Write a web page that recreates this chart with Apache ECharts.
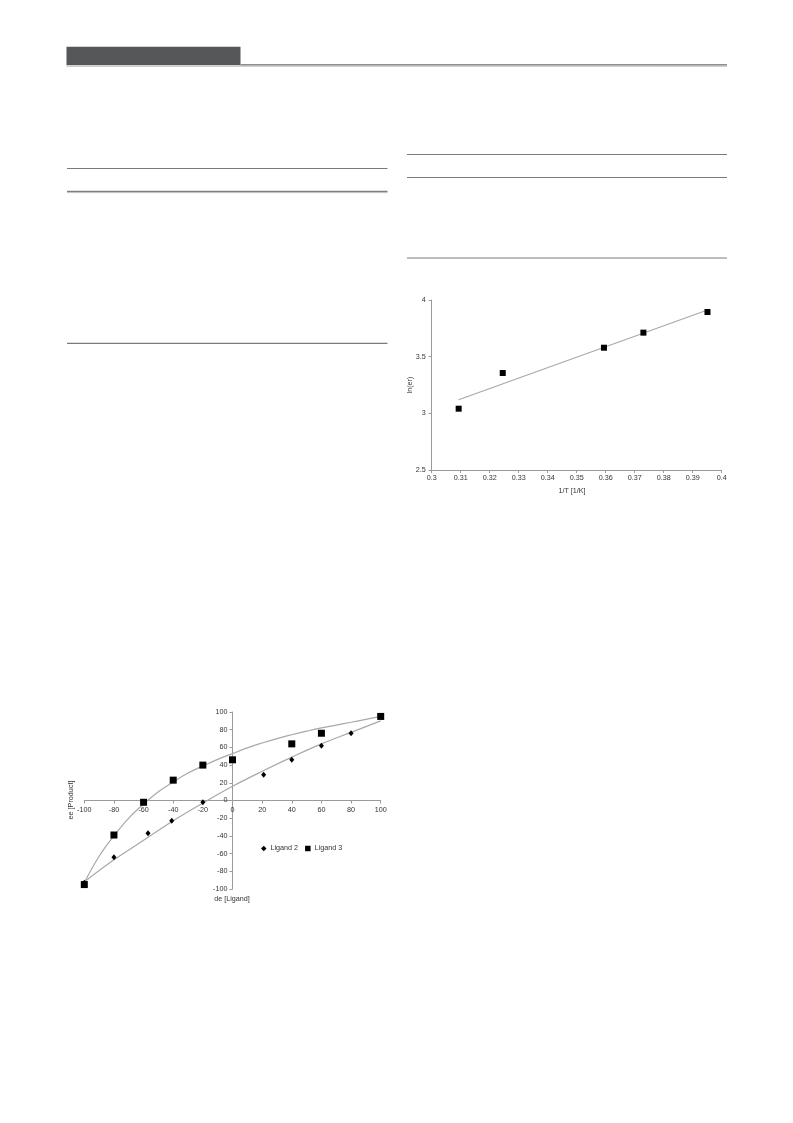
<!DOCTYPE html>
<html>
<head>
<meta charset="utf-8">
<script src="https://cdn.jsdelivr.net/npm/echarts@6/dist/echarts.min.js"></script>
<style>
html,body{margin:0;padding:0;background:#fff;}
#page{width:793px;height:1123px;}
</style>
</head>
<body>
<div id="page"></div>
<script>
// ---- Chart 1: ee [Product] vs de [Ligand] ----
const ligand2 = [[-100,-93],[-80,-64],[-57,-37],[-41,-23],[-20,-2],[21,29],[40,46],[60,62],[80,76]];
const ligand3 = [[-100,-95],[-80,-39],[-60,-2],[-40,23],[-20,40],[0,46],[40,64],[60,76],[100,95]];
const ligand2Fit = [[-100,-92],[-80,-67],[-60,-45],[-40,-23],[-20,-3],[0,16],[20,33],[40,49],[60,64],[80,77],[100,90]];
const ligand3Fit = [[-100,-93],[-90,-63],[-80,-40],[-70,-20],[-60,-4],[-50,10],[-40,21],[-30,31],[-20,39],[-10,46.5],[0,53],[10,59.5],[20,65],[30,70],[40,74.3],[50,78.3],[60,82],[70,85.2],[80,88.4],[90,91.7],[100,95]];
const deAxis = {min:-100, max:100, interval:20};
const eeAxis = {min:-100, max:100, interval:20};
const seriesNames1 = ['Ligand 2','Ligand 3'];

// ---- Chart 2: ln(er) vs 1/T ----
const invT = [0.3093,0.3245,0.3594,0.3730,0.3951];
const lnEr = [3.041,3.356,3.579,3.712,3.894];
const lnErFit = [[0.3093,3.12],[0.3951,3.912]];
const invTAxis = {min:0.3, max:0.4, interval:0.01};
const lnErAxis = {min:2.5, max:4, interval:0.5};

const FONT = '"Liberation Sans", Arial, sans-serif';
const LBL = '#333';
const AX = '#9a9a9a';
const FIT = '#a8a8a8';

const G1 = {left:84.3, top:712, width:296.4, height:177};
const G2 = {left:431.7, top:300, width:290, height:170};

const chart = echarts.init(document.getElementById('page'), null, {renderer:'canvas', width:793, height:1123});

function axisCommon(){
  return {
    axisLine:{show:true, onZero:false, lineStyle:{color:AX, width:1}},
    axisTick:{show:true, length:3, lineStyle:{color:AX}},
    splitLine:{show:false},
    axisLabel:{color:LBL, fontSize:7.2, fontFamily:FONT}
  };
}

// chart 1 axes cross at zero: shift each axis from the grid edge to the other axis's zero
const zeroFracY = (0 - eeAxis.min) / (eeAxis.max - eeAxis.min);
const zeroFracX = (0 - deAxis.min) / (deAxis.max - deAxis.min);
const x1 = Object.assign(axisCommon(), {type:'value', gridIndex:0, position:'bottom',
  offset: -G1.height * zeroFracY, min:deAxis.min, max:deAxis.max, interval:deAxis.interval});
x1.axisLabel.margin = 6;
const y1 = Object.assign(axisCommon(), {type:'value', gridIndex:0, position:'left',
  offset: -G1.width * zeroFracX, min:eeAxis.min, max:eeAxis.max, interval:eeAxis.interval});
y1.axisLabel.margin = 5;

const x2 = Object.assign(axisCommon(), {type:'value', gridIndex:1, min:invTAxis.min, max:invTAxis.max, interval:invTAxis.interval});
x2.axisLabel.margin = 5;
x2.axisLabel.formatter = v => String(+v.toFixed(2));
const y2 = Object.assign(axisCommon(), {type:'value', gridIndex:1, min:lnErAxis.min, max:lnErAxis.max, interval:lnErAxis.interval});
y2.axisLabel.margin = 6;
y2.axisLabel.formatter = v => String(+v.toFixed(1));

const txt = (text, x, y, rot) => ({
  type:'text', x:x, y:y, rotation: rot || 0, silent:true,
  style:{text:text, fill:LBL, font:'7.2px ' + FONT, textAlign:'center', textVerticalAlign:'middle'}
});
const rule = (x1p, x2p, y, w, c) => ({
  type:'line', silent:true, shape:{x1:x1p, y1:y, x2:x2p, y2:y}, style:{stroke:c, lineWidth:w}
});

chart.setOption({
  animation:false,
  backgroundColor:'#fff',
  grid:[
    Object.assign({outerBoundsMode:'none', containLabel:false}, G1),
    Object.assign({outerBoundsMode:'none', containLabel:false}, G2)
  ],
  xAxis:[x1, x2],
  yAxis:[y1, y2],
  legend:{
    data:[{name:seriesNames1[0], icon:'diamond'},{name:seriesNames1[1], icon:'rect'}],
    left:261, top:845, itemWidth:5.5, itemHeight:5.5, itemGap:7,
    padding:0,
    textStyle:{color:LBL, fontSize:7.2, fontFamily:FONT, padding:[0,0,0,-1]},
    itemStyle:{opacity:1},
    selectedMode:false
  },
  series:[
    {name:'fit2', type:'line', xAxisIndex:0, yAxisIndex:0, data:ligand2Fit, smooth:0.4, showSymbol:false, symbol:'none',
     lineStyle:{color:FIT, width:1.2}, z:1, silent:true},
    {name:'fit3', type:'line', xAxisIndex:0, yAxisIndex:0, data:ligand3Fit, smooth:0.4, showSymbol:false, symbol:'none',
     lineStyle:{color:FIT, width:1.2}, z:1, silent:true},
    {name:seriesNames1[0], type:'scatter', xAxisIndex:0, yAxisIndex:0, data:ligand2, symbol:'diamond', symbolSize:[5,6],
     itemStyle:{color:'#000', opacity:1}, z:3},
    {name:seriesNames1[1], type:'scatter', xAxisIndex:0, yAxisIndex:0, data:ligand3, symbol:'rect', symbolSize:7,
     itemStyle:{color:'#000', opacity:1}, z:3},
    {name:'lnfit', type:'line', xAxisIndex:1, yAxisIndex:1, data:lnErFit, showSymbol:false, symbol:'none',
     lineStyle:{color:FIT, width:1.2}, z:1, silent:true},
    {name:'lnEr', type:'scatter', xAxisIndex:1, yAxisIndex:1, data:invT.map((t,i)=>[t, lnEr[i]]), symbol:'rect', symbolSize:6,
     itemStyle:{color:'#000', opacity:1}, z:3}
  ],
  graphic:[
    // header bar
    {type:'rect', silent:true, shape:{x:66.5, y:46.7, width:174, height:18.6}, style:{fill:'#555759'}},
    rule(240.5, 727, 64.8, 1.3, '#6a6a6a'),
    rule(66.5, 727, 66.3, 1, '#c4c4c4'),
    // left column rules
    rule(67, 387.5, 168.5, 1.2, '#7a7a7a'),
    rule(67, 387.5, 191.4, 1.2, '#808080'),
    rule(67, 387.5, 192.6, 1, '#bdbdbd'),
    rule(67, 387.5, 343.3, 1.2, '#7a7a7a'),
    // right column rules
    rule(407, 727, 154.5, 1.2, '#7a7a7a'),
    rule(407, 727, 177.5, 1.2, '#7a7a7a'),
    rule(407, 727, 258, 2, '#bdbdbd'),
    // axis titles
    txt('ee [Product]', 71, 800, Math.PI/2),
    txt('de [Ligand]', 232, 899, 0),
    txt('ln(er)', 410, 385, Math.PI/2),
    txt('1/T [1/K]', 572, 491, 0)
  ]
});
</script>
</body>
</html>
